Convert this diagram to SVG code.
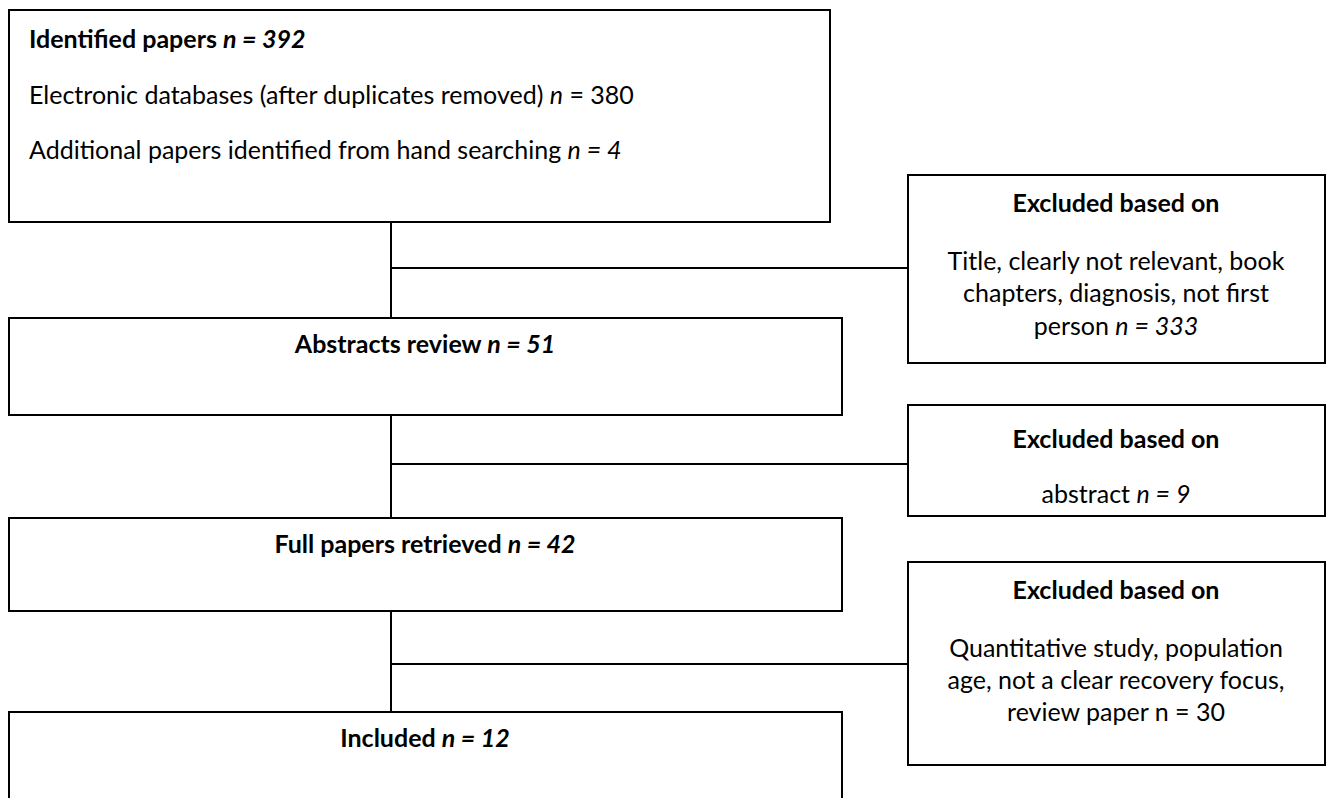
<svg xmlns="http://www.w3.org/2000/svg" width="1328" height="798" viewBox="0 0 1328 798">
<style>
.box{fill:#fff;stroke:#000;stroke-width:2}
.conn{fill:none;stroke:#000;stroke-width:2}
text{font-family:Lato,"Open Sans","Liberation Sans",sans-serif;font-size:25px;fill:#000}
.b{font-weight:bold}
.c{text-anchor:middle}
.i{font-style:italic}
</style>
<rect width="1328" height="798" fill="#fff"/>
<g id="connectors">
<path class="conn" d="M391 222V318M391 268H908"/>
<path class="conn" d="M391 415V518M391 464H908"/>
<path class="conn" d="M391 611V712M391 664H908"/>
</g>
<g id="identified">
<rect class="box" x="9" y="10" width="821" height="212"/>
<text x="29" y="48" class="b">Identified papers <tspan class="i">n = 392</tspan></text>
<text x="29" y="104">Electronic databases (after duplicates removed) <tspan class="i">n</tspan> = 380</text>
<text x="29" y="159">Additional papers identified from hand searching <tspan class="i">n = 4</tspan></text>
</g>
<g id="excluded1">
<rect class="box" x="908" y="175" width="417" height="188"/>
<text x="1116" y="212" class="b c">Excluded based on</text>
<text x="1116" y="270" class="c">Title, clearly not relevant, book</text>
<text x="1116" y="302" class="c">chapters, diagnosis, not first</text>
<text x="1116" y="335" class="c">person <tspan class="i">n = 333</tspan></text>
</g>
<g id="abstracts">
<rect class="box" x="9" y="318" width="833" height="97"/>
<text x="425" y="353" class="b c">Abstracts review <tspan class="i">n = 51</tspan></text>
</g>
<g id="excluded2">
<rect class="box" x="908" y="405" width="417" height="111"/>
<text x="1116" y="448" class="b c">Excluded based on</text>
<text x="1116" y="503" class="c">abstract <tspan class="i">n = 9</tspan></text>
</g>
<g id="fullpapers">
<rect class="box" x="9" y="518" width="833" height="93"/>
<text x="425" y="553" class="b c">Full papers retrieved <tspan class="i">n = 42</tspan></text>
</g>
<g id="excluded3">
<rect class="box" x="908" y="562" width="417" height="203"/>
<text x="1116" y="599" class="b c">Excluded based on</text>
<text x="1116" y="657" class="c">Quantitative study, population</text>
<text x="1116" y="689" class="c">age, not a clear recovery focus,</text>
<text x="1116" y="721" class="c">review paper n = 30</text>
</g>
<g id="included">
<rect class="box" x="9" y="712" width="833" height="100"/>
<text x="425" y="747" class="b c">Included <tspan class="i">n = 12</tspan></text>
</g>
</svg>
